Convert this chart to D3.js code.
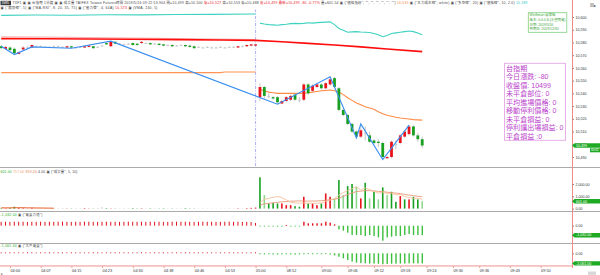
<!DOCTYPE html>
<html><head><meta charset="utf-8">
<script src="https://cdn.jsdelivr.net/npm/d3@7/dist/d3.min.js"></script>
<style>
html,body{margin:0;padding:0;background:#fff;}
svg{display:block;}
text{font-family:"Liberation Sans","DejaVu Sans","Noto Sans CJK TC",sans-serif;}
</style></head><body>
<svg id="chart" width="600" height="275"></svg>
<script>
// ---------------- DATA ----------------
const firstSlot = -2;            // slot index of first bar
const tickSlots  = [0,7,14,21,28,35,42,49,56,63,71,77,83,89,95,101,107,114,121];
const tickLabels = ["04:00","04:07","04:15","04:23","04:30","04:38","04:46","04:53","05:00","08:52","09:00","09:06","09:12","09:18","09:24","09:30","09:36","09:43","09:50"];
const priceTicks = [10490,10500,10510,10520,10530,10540,10550,10560,10570,10580,10590,10600];
const volTicks = [0,1000,2000];

// night session bars [open, high, low, close] (slots -2..56)
const nightOHLC = [
[10577,10578,10575,10575.5],[10575,10577,10574,10576.5],[10576,10577,10573,10574],[10575,10576,10570.5,10571.5],
[10571,10573,10570.5,10572.5],[10574.5,10577,10574,10576],[10576,10577,10575.5,10576],[10576,10578.5,10575.5,10578],
[10577,10577.5,10576.5,10577],[10577,10577.5,10576.5,10577],[10576.5,10577,10576,10576.5],[10576.5,10577,10576,10576.5],
[10577,10577.5,10576.5,10577],[10577,10577.5,10576.5,10577],[10576.5,10577,10576,10576.5],[10576,10577.5,10575.5,10577],
[10577,10577.5,10575.5,10576],[10576,10576.5,10575.5,10576],[10576.5,10577,10576,10576.5],[10576,10577.5,10575.5,10577],
[10576.5,10578,10576,10577.5],[10577,10577.5,10575,10575.5],[10576.5,10577,10576,10576.5],[10577.5,10578,10577,10577.5],
[10579.5,10580,10578,10578.5],[10577,10581,10576.5,10580.5],[10580.5,10581,10578.5,10579],[10579,10579.5,10578.5,10579],
[10578.5,10579,10578,10578.5],[10579,10579.5,10578.5,10579],[10579.5,10580,10577.5,10578],[10579,10579.5,10577.5,10578],
[10579.5,10581,10579,10580.5],[10579.5,10580,10579,10579.5],[10579.5,10580,10578,10578.5],[10579,10579.5,10578.5,10579],
[10579,10579.5,10577.5,10578],[10578.5,10579,10577,10577.5],[10578,10578.5,10577.5,10578],[10578,10578.5,10576.5,10577],
[10577.5,10578,10577,10577.5],[10578,10578.5,10577.5,10578],[10578,10578.5,10576.5,10577],[10577.5,10578,10576,10576.5],
[10577,10577.5,10575,10575.5],[10576.5,10577,10576,10576.5],[10576,10576.5,10575.5,10576],[10576.5,10577,10576,10576.5],
[10576,10576.5,10575.5,10576],[10576,10576.5,10575.5,10576],[10576.5,10577,10576,10576.5],[10576,10576.5,10575.5,10576],
[10576.5,10577,10576,10576.5],[10576.5,10577,10576,10576.5],[10576,10577.5,10575.5,10577],[10577,10577.5,10576.5,10577],
[10577,10578.5,10576.5,10578],[10577.5,10579,10577,10578.5],[10577.5,10579,10577,10578.5]
];
// day session bars [open, high, low, close] (slots 57..94)
const dayOHLC = [
[10537,10548,10534,10545],[10545,10546,10536,10538],[10538,10540,10536,10538],[10537,10538,10535,10536],
[10537,10538,10531.5,10533],[10532,10535,10531.5,10534],[10534,10538,10533,10537],[10535,10539,10534,10538],
[10539,10540,10534,10535],[10535,10537,10533,10535],[10535,10548,10534,10547],[10547,10548,10539,10540],
[10542,10547,10541,10546],[10545,10548,10544,10547],[10547,10548,10543,10544],[10544,10549,10543,10548],
[10547,10553,10546,10551],[10552,10553,10544,10545],[10544,10545,10526,10527],[10527,10528,10522,10523],
[10523,10524,10515,10516],[10516,10517,10509,10510],[10510,10511,10505,10506],[10506,10516,10505,10511],
[10509,10514,10503,10509],[10507,10510,10501,10502],[10503,10504,10500,10501],[10502,10504,10498,10501],
[10501,10502,10488,10490],[10489,10491,10488.5,10490],[10490,10503,10489,10502],[10500,10503,10496,10500],
[10501,10508,10500,10507],[10506,10511,10505,10510],[10508,10515,10507,10514],[10514,10515,10506,10507],
[10507,10509,10502,10504],[10504,10506,10497,10499]
];
// zigzag pivots [slot, price]
const zigzag = [[-2,10577],[1,10570.5],[5,10576.5],[14,10575.5],[23,10581],[61,10531.5],[73,10553],[79,10505],[80,10516],[85,10488],[91,10515]];
// long red average [slot, price]
const redMA = [[-2,10583],[8,10582.9],[18,10582.7],[28,10582.5],[38,10582.2],[48,10581.9],[56,10581.6],[62,10580.5],[68,10579.3],[74,10578],[80,10576.5],[86,10574.8],[94,10572.8]];
const redMA2 = [[-2,10584.5],[8,10584.2],[18,10583.8],[28,10583.5],[38,10583],[48,10582.6],[56,10582.2]];
// session price line (orange)
const orangeNight = [[-2,10556.3],[48,10556.3],[49,10556.8],[56,10556.8]];
const orangeDay = [10543,10542,10541,10540.5,10540,10540,10540,10540,10540,10540,10540.3,10540.5,10541,10541.5,10542,10542.3,10542.6,10542,10541,10539,10536.5,10534.5,10532.5,10531,10529.5,10528.5,10527.5,10525.5,10524,10522.8,10522,10521.2,10520.6,10520.2,10519.8,10519.4,10519.2,10519];
// main-force cost line (cyan)
const cyanNight = [[-2,10601.3],[6,10601.6],[14,10601.4],[22,10601.8],[30,10601.7],[38,10602],[46,10602.1],[56,10602.3]];
const cyanDay = [10595.2,10594.5,10594,10593.8,10593.5,10594,10594.3,10594.8,10595,10594.8,10595,10595.5,10595.2,10595.6,10595.8,10596,10596.2,10594,10591,10589.5,10588,10588.3,10588.5,10588.2,10588,10587.8,10587,10586,10584.5,10585.5,10587,10587.5,10588,10588.5,10589,10588.5,10587.5,10586];
// volume
const nightVol = [40,30,50,150,60,40,30,50,20,20, 20,20,20,30,40,20,20,30,30,40, 20,20,40,90,40,20,20,20,30,30, 40,20,30,20,30,30,20,30,20,20, 30,30,40,20,20,20,20,20,20,20, 20,20,30,20,30,30,40,60,80];
const dayVol = [2540,1100,420,470,420,420,280,280,200,150,960,420,420,280,420,1230,960,830,2320,1100,1830,2000,1770,830,2100,830,1370,750,1720,1100,1370,550,1020,750,750,960,750,601];
const dayVolDir = [-1,0,-1,-1,-1,1,1,1,-1,-1,1,-1,1,1,-1,1,1,0,-1,0,-1,-1,0,1,-1,0,-1,0,-1,0,-1,-1,1,-1,1,-1,-1,0];
const volMA5 = [500,750,830,910,990,900,700,520,460,440,450,430,430,430,460,580,690,800,1100,1300,1450,1620,1780,1500,1680,1550,1420,1250,1350,1200,1250,1120,1150,980,900,830,840,757];
const volMA10 = [280,390,430,470,510,550,575,600,615,628,620,610,615,620,640,680,720,760,850,1000,1150,1280,1380,1420,1460,1460,1430,1400,1380,1330,1300,1260,1220,1150,1100,1050,1000,959];
const nightVolMA = [60,60,60,70,70,70,60,60,50,50,40,40,30];
// buy/sell force panel
const nightForce = [420,430,410,440,420,430,400,430,420,440, 410,430,420,430,440,420,410,430,420,440, 430,420,410,430,440,420,430,410,420,440, 430,420,430,410,440,420,430,420,410,430, 440,420,430,420,410,430,440,420,430,410, 420,430,440,420,430,410,420,400,300];
const dayForce = [-60,-80,-60,-80,-100,-60,50,-60,-80,-60,430,260,260,260,260,430,330,150,-400,-540,-760,-1010,-1010,-1010,-1120,-1010,-1120,-1270,-1630,-1270,-1200,-1120,-1120,-1010,-900,-1010,-1010,-1032];
// big-player panel
const nightBig = [100,90,110,100,90,100,110,100,90,100, 100,110,90,100,100,90,110,100,100,90, 100,110,100,90,100,100,110,90,100,100, 90,100,110,100,90,100,100,110,90,100, 100,90,110,100,100,90,100,110,100,90, 100,100,110,90,100,100,90,100,110];
const dayBig = [-100,-120,-100,-120,-130,-120,-100,-120,-130,-120,-100,-80,-100,-90,-100,-80,-120,-220,-360,-530,-700,-870,-980,-1030,-1050,-1080,-1080,-1100,-1150,-1120,-1100,-1090,-1080,-1070,-1060,-1060,-1060,-1061];
const infoLines = ["台指期","今日漲跌: -80","收盤價: 10499","未平倉部位: 0","平均進場價格: 0","移動停利價格: 0","未平倉損益: 0","停利讓出場損益: 0","平倉損益 :0"];
const verLines = ["WinSmart 贏家版","版本: 0.0.0.8-(永豐期貨)","日期: 2019/5/16","到期日: 2019/12/30"];

// ---------------- DRAW ----------------
const svg = d3.select("#chart");
const RED="#e8141c", GREEN="#18a020", LGREEN="#8fd98f", GRAY="#c6c6c6", DARK="#444";
const x  = d3.scaleLinear().domain([0,121]).range([10,540.6]);
const yP = d3.scaleLinear().domain([10490,10600]).range([157,17]);
const yV = d3.scaleLinear().domain([0,2000]).range([208.6,184]);
const yF = d3.scaleLinear().domain([-1000,0]).range([234.9,225.7]);
const yB = d3.scaleLinear().domain([-1000,0]).range([262.8,253.3]);

const defs = svg.append("defs");
function clip(id,x0,y0,w,h){defs.append("clipPath").attr("id",id).append("rect").attr("x",x0).attr("y",y0).attr("width",w).attr("height",h);}
clip("cMain",0,9.5,572,157); clip("cVol",0,167.5,572,43); clip("cF",0,211.5,572,31); clip("cB",0,243.5,572,21.5);

// panel separators
[167,211,243].forEach(yy=>svg.append("line").attr("x1",0).attr("x2",600).attr("y1",yy+0.5).attr("y2",yy+0.5).attr("stroke","#aaa").attr("stroke-width",1));

const main = svg.append("g").attr("clip-path","url(#cMain)");
const line = d3.line().x(d=>x(d[0])).y(d=>yP(d[1]));
const daySeries = arr => arr.map((v,i)=>[57+i,v]);

// session divider
main.append("line").attr("x1",x(56)).attr("x2",x(56)).attr("y1",9).attr("y2",167)
  .attr("stroke","#9c9cf4").attr("stroke-width",0.8).attr("stroke-dasharray","3,1.5,1,1.5");

main.append("path").attr("d",line(cyanNight)).attr("fill","none").attr("stroke","#3fd2c0").attr("stroke-width",1.1);
main.append("path").attr("d",line(daySeries(cyanDay))).attr("fill","none").attr("stroke","#3fd2c0").attr("stroke-width",1.1);
main.append("path").attr("d",line(redMA2)).attr("fill","none").attr("stroke","#f7b3b3").attr("stroke-width",1.2);
main.append("path").attr("d",line(redMA)).attr("fill","none").attr("stroke","#ff0d0d").attr("stroke-width",1.6);
main.append("path").attr("d",line(orangeNight)).attr("fill","none").attr("stroke","#ff9455").attr("stroke-width",1.1);
main.append("path").attr("d",line(daySeries(orangeDay))).attr("fill","none").attr("stroke","#ff8a45").attr("stroke-width",1.1);

const candles = nightOHLC.concat(dayOHLC).map((d,i)=>({s:firstSlot+i,o:d[0],h:d[1],l:d[2],c:d[3]}));
const cg = main.append("g");
cg.selectAll("line").data(candles).join("line")
  .attr("x1",d=>x(d.s)).attr("x2",d=>x(d.s)).attr("y1",d=>yP(d.h)).attr("y2",d=>yP(d.l))
  .attr("stroke","#b8b8b8").attr("stroke-width",0.8);
cg.selectAll("rect").data(candles).join("rect")
  .attr("x",d=>x(d.s)-1.4).attr("width",2.8)
  .attr("y",d=>yP(Math.max(d.o,d.c)))
  .attr("height",d=>Math.max(0.9,Math.abs(yP(d.o)-yP(d.c))))
  .attr("fill",d=>d.c>d.o?RED:(d.c<d.o?GREEN:GRAY));

main.append("path").attr("d",line(zigzag)).attr("fill","none").attr("stroke","#3b8ff0").attr("stroke-width",1.1);

// volume panel
const vg = svg.append("g").attr("clip-path","url(#cVol)");
const vols = nightVol.map((v,i)=>({s:firstSlot+i,v,col:(nightOHLC[i][3]>nightOHLC[i][0]?RED:(nightOHLC[i][3]<nightOHLC[i][0]?GREEN:GRAY))}))
  .concat(dayVol.map((v,i)=>({s:57+i,v,col:dayVolDir[i]>0?RED:(dayVolDir[i]<0?GREEN:LGREEN)})));
vg.selectAll("rect").data(vols).join("rect")
  .attr("x",d=>x(d.s)-0.8).attr("width",1.6).attr("y",d=>yV(d.v)).attr("height",d=>yV(0)-yV(d.v)).attr("fill",d=>d.col);
const lineV = d3.line().x(d=>x(d[0])).y(d=>yV(d[1]));
vg.append("path").attr("d",lineV(nightVolMA.map((v,i)=>[firstSlot+i,v]))).attr("fill","none").attr("stroke","#e5602a").attr("stroke-width",1);
vg.append("path").attr("d",lineV(daySeries(volMA10))).attr("fill","none").attr("stroke","#e79a78").attr("stroke-width",0.9);
vg.append("path").attr("d",lineV(daySeries(volMA5))).attr("fill","none").attr("stroke","#f6c09a").attr("stroke-width",0.9);

// force panel
const fg = svg.append("g").attr("clip-path","url(#cF)");
const force = nightForce.map((v,i)=>({s:firstSlot+i,v})).concat(dayForce.map((v,i)=>({s:57+i,v})));
fg.selectAll("rect").data(force).join("rect")
  .attr("x",d=>x(d.s)-0.6).attr("width",d=>d.s>=57?1.4:1)
  .attr("y",d=>Math.min(yF(d.v),yF(0))).attr("height",d=>Math.max(0.8,Math.abs(yF(d.v)-yF(0))))
  .attr("fill",d=>d.v>0?"#e0141c":"#3cbf3c");

// big player panel
const bg = svg.append("g").attr("clip-path","url(#cB)");
const big = nightBig.map((v,i)=>({s:firstSlot+i,v})).concat(dayBig.map((v,i)=>({s:57+i,v})));
bg.selectAll("rect").data(big).join("rect")
  .attr("x",d=>x(d.s)-0.6).attr("width",d=>d.s>=57?1.4:1)
  .attr("y",d=>Math.min(yB(d.v),yB(0))).attr("height",d=>Math.max(0.8,Math.abs(yB(d.v)-yB(0))))
  .attr("fill",d=>d.v>0?"#e0141c":"#3cbf3c");

// x axis
svg.append("rect").attr("x",0).attr("y",265).attr("width",572).attr("height",1.8).attr("fill","#f6c2c2");
const xa = svg.append("g").attr("transform","translate(0,266)")
  .call(d3.axisBottom(x).tickValues(tickSlots).tickFormat((d,i)=>tickLabels[i]).tickSize(2).tickPadding(1.5));
xa.select(".domain").remove();
xa.selectAll(".tick line").attr("stroke","#f0a0a0");
xa.selectAll(".tick text").attr("font-size",3.8).attr("fill","#333").attr("text-anchor","start");

// right axes
svg.append("line").attr("x1",572.5).attr("x2",572.5).attr("y1",0).attr("y2",268).attr("stroke","#f08a8a").attr("stroke-width",1);
const ya = svg.append("g").attr("transform","translate(572.5,0)")
  .call(d3.axisRight(yP).tickValues(priceTicks).tickFormat(d3.format(",")).tickSize(1.5).tickPadding(1.5));
const yva = svg.append("g").attr("transform","translate(572.5,0)")
  .call(d3.axisRight(yV).tickValues(volTicks).tickFormat(d3.format(",.2f")).tickSize(1.5).tickPadding(1.5));
const yfa = svg.append("g").attr("transform","translate(572.5,0)")
  .call(d3.axisRight(yF).tickValues([0]).tickFormat(d3.format(",.2f")).tickSize(1.5).tickPadding(1.5));
const yba = svg.append("g").attr("transform","translate(572.5,0)")
  .call(d3.axisRight(yB).tickValues([0]).tickFormat(d3.format(",.2f")).tickSize(1.5).tickPadding(1.5));
[ya,yva,yfa,yba].forEach(a=>{a.select(".domain").remove();a.selectAll(".tick line").attr("stroke","#888");
  a.selectAll(".tick text").attr("font-size",3.6).attr("fill","#333");});

// current value labels
function tag(yc,txt){
  svg.append("path").attr("d",`M572,${yc} L574.5,${yc-2.2} L600,${yc-2.2} L600,${yc+2.2} L574.5,${yc+2.2} Z`).attr("fill","#1faa24");
  svg.append("text").attr("x",576).attr("y",yc+1.3).attr("font-size",3.6).attr("fill","#fff").text(txt);
}
tag(yP(10499),"10,499");
svg.append("rect").attr("x",590).attr("y",148.3).attr("width",10).attr("height",4).attr("fill","#1faa24");
svg.append("text").attr("x",591).attr("y",151.3).attr("font-size",3).attr("fill","#fff").text("00:02");
tag(yV(601),"601.00");
tag(yF(-1032),"-1,032.00");
tag(yB(-1061),"-1,061.00");

// header rows (stretched to the widths seen in the reference)
function row(x0,y0,segs,fs,len){
  const t=svg.append("text").attr("x",x0).attr("y",y0).attr("font-size",fs)
    .attr("textLength",len).attr("lengthAdjust","spacing");
  segs.forEach(s=>t.append("tspan").attr("fill",s[1]).text(s[0]));
}
svg.append("rect").attr("x",0.5).attr("y",0.8).attr("width",10.5).attr("height",4.4).attr("fill","#3a3a3a");
svg.append("text").attr("x",1.6).attr("y",4.1).attr("font-size",3).attr("fill","#fff").text("1MIN");
row(12.5,4.4,[["TXF1 ▣ ▣ 台指期 1分鐘 ▣ ▣ 成交量 TAIFEX Taiwan Futures時間 2019/5/16 09:22:53.904 開=10,499 高=10,500 ",DARK],
  ["低=10,527 ",RED],["高=10,553 低=10,488 ",DARK],["收=10,499 最新=10,499 -80 -0.77% ",RED],
  ["量=601.54 ▣ (\"價格指標\", \"\", \"\", \"\", \"\", \"\", \"\") ",DARK],["10,519 ","#f07a30"],
  ["▣ (\"主力成本線\", white) ▣ (\"多空線\", 20) ▣ (\"價格線\", 10, 2.0) ",DARK],["10,589","#2cc8c0"]],3.4,515);
row(0.5,9.0,[["▣ (\"趨勢線\", 5) ▣ (\"MA-RSI\", 8, 20, 35, 75) ▣ (\"壓力帶\", 4, 64A) ",DARK],["10,573 ",RED],["▣ (VMA, 240, 5)",DARK]],3.4,157);
row(0.5,172.6,[["601.00 ","#1faa24"],["757.00 ","#f0a070"],["959.20 ","#e07040"],["4.00 ▣ (\"成交量\", 5, 10)",DARK]],3.4,77);
row(0.5,215.8,[["-1,032.00 ","#1faa24"],["▣ (\"買賣力道\")",DARK]],3.4,42);
row(0.5,247.2,[["-1,061.00 ","#1faa24"],["▣ (\"大戶買賣\")",DARK]],3.4,42);
svg.append("text").attr("x",590).attr("y",6.6).attr("font-size",4).attr("fill","#333").text("目▸");

// version box
svg.append("rect").attr("x",528.3).attr("y",12.7).attr("width",38.5).attr("height",19.6).attr("fill","none").attr("stroke","#7fd07f").attr("stroke-width",0.8);
svg.selectAll("text.ver").data(verLines).join("text").attr("class","ver")
  .attr("x",529.5).attr("y",(d,i)=>16.4+i*4.6).attr("font-size",3.4).attr("fill","#3aa53a").text(d=>d);

// info box (Latin primary font keeps line boxes compact; CJK glyphs fall back)
svg.append("rect").attr("x",504.5).attr("y",63.3).attr("width",61).attr("height",77).attr("fill","#fff").attr("stroke","#e6a6e6").attr("stroke-width",0.9);
svg.selectAll("text.info").data(infoLines).join("text").attr("class","info")
  .attr("x",506).attr("y",(d,i)=>71.0+i*8.45).attr("font-size",7.1).attr("fill","#bb44cc").text(d=>d);

// bottom bits
svg.append("text").attr("x",0.5).attr("y",275).attr("font-size",3.5).attr("fill","#555").text("◂");
svg.append("rect").attr("x",588).attr("y",271.5).attr("width",8).attr("height",3.5).attr("fill","#d8d8d8");
</script>
</body></html>
